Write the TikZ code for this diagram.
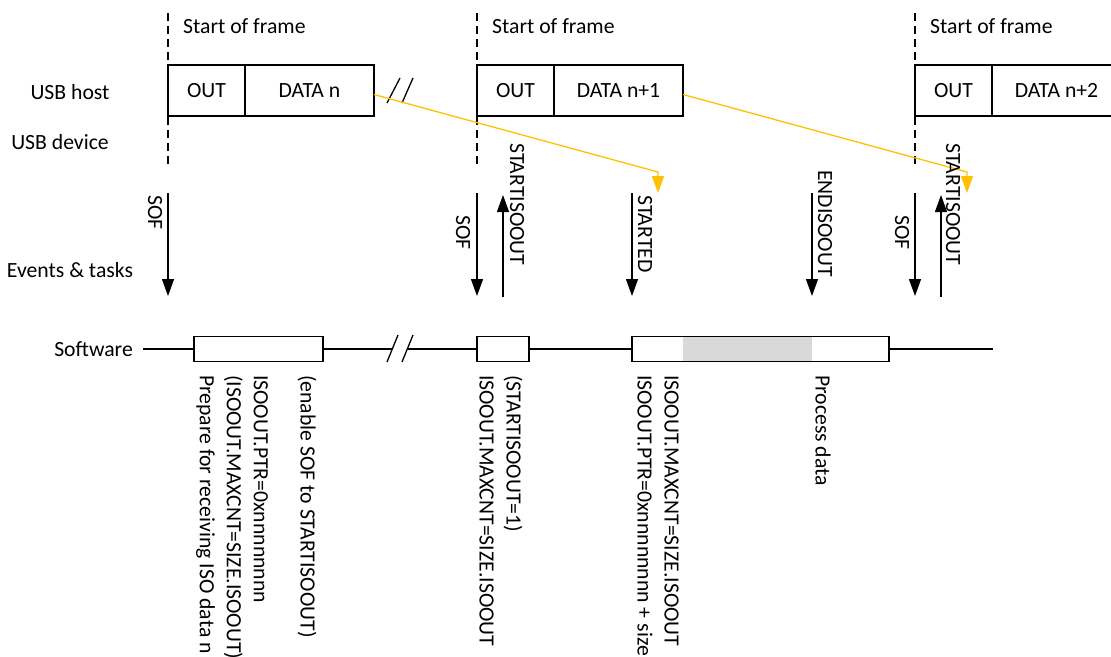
\documentclass[tikz,border=0pt]{standalone}
\usepackage{fontspec}
\setmainfont{Carlito}
\usetikzlibrary{arrows.meta,positioning,calc}
\definecolor{ygold}{HTML}{FFC000}
\definecolor{busy}{HTML}{D9D9D9}

\begin{document}
\begin{tikzpicture}[
  x=1pt, y=-1pt,
  font=\fontsize{21.7}{27}\selectfont,
  pkt/.style={draw, line width=1.3pt, minimum height=51pt, inner sep=0pt,
              outer sep=0pt},
  swbox/.style={draw, line width=1.3pt, minimum height=25pt, inner sep=0pt,
                outer sep=0pt, anchor=west},
  tl/.style={draw, line width=1.3pt},
  evt/.style={draw, line width=1.3pt, -{Triangle[length=17pt, width=12pt]}},
  rx/.style={draw=ygold, line width=1.3pt, -{Triangle[length=17pt, width=12pt]}},
  frm/.style={draw, line width=1.3pt, dash pattern=on 8pt off 5pt},
  vlbl/.style={rotate=-90, inner sep=0pt, align=left, anchor=west}
]
\useasboundingbox (0,0) rectangle (1111,656);

\node (host) at (70,92) {USB host};
\node (dev) at (60,142) {USB device};
\node (evts) at (70,270) {Events \& tasks};
\node[anchor=east, inner sep=0pt] (sw) at (133,349) {Software};

\foreach \x/\i/\d in {168/1/n, 477/2/n+1, 915/3/n+2} {
  \draw[frm] (\x,13) -- (\x,168);
  \node[anchor=west, inner sep=0pt] (sf\i) at (\x+15,26) {Start of frame};
  \node[pkt, minimum width=77pt, anchor=north west] (out\i) at (\x,65) {OUT};
  \node[pkt, minimum width=129pt, right=0pt of out\i] (data\i) {DATA \d};
}
\draw[tl] (387,103) -- (400,78) (402,103) -- (413,78);

\coordinate (rxA) at (658,193);
\coordinate (rxC) at (967,193);
\draw[rx] ([yshift=-4pt]data1.east) -- (658,172) -- (rxA);
\draw[rx] ([yshift=-4pt]data2.east) -- (967,172) -- (rxC);

\foreach \x/\n in {168/sofA, 477/sofB, 632/started, 812/endiso, 915/sofC}
  \draw[evt] (\x,193) coordinate (\n-t) -- (\x,296) coordinate (\n-b);
\foreach \x/\n in {503/startB, 941/startC}
  \draw[evt] (\x,297) coordinate (\n-b) -- (\x,195) coordinate (\n-t);

\node[vlbl] (lsofA) at (155,195) {SOF};
\node[vlbl] (lsofB) at (463,215) {SOF};
\node[vlbl] (lsofC) at (902,215) {SOF};
\node[vlbl] (lstartB) at (517,143) {STARTISOOUT};
\node[vlbl] (lstarted) at (645,195) {STARTED};
\node[vlbl] (lend) at (825,170) {ENDISOOUT};
\node[vlbl] (lstartC) at (953,143) {STARTISOOUT};

\fill[busy] (683,337) rectangle (812,361);
\node[swbox, minimum width=129pt] (prep) at (194,349) {};
\node[swbox, minimum width=52pt] (arm) at (477,349) {};
\node[swbox, minimum width=257pt] (proc) at (632,349) {};
\coordinate (swend) at (993,349);
\draw[tl] ([xshift=10pt]sw.east) -- (prep.west);
\draw[tl] (prep.east) -- (393,349);
\draw[tl] (408,349) -- (arm.west);
\draw[tl] (arm.east) -- (proc.west);
\draw[tl] (proc.east) -- (swend);
\draw[tl] (387,362) -- (398,335) (402,362) -- (413,335);

\node[vlbl] (tA) at (307,375) {(enable SOF to STARTISOOUT)};
\node[vlbl] (tB) at (232,375)
  {ISOOUT.PTR=0xnnnnnnnn\\(ISOOUT.MAXCNT=SIZE.ISOOUT)\\Prepare for receiving ISO data n};
\node[vlbl] (tC) at (501,375) {(STARTISOOUT=1)\\ISOOUT.MAXCNT=SIZE.ISOOUT};
\node[vlbl] (tD) at (658,375) {ISOOUT.MAXCNT=SIZE.ISOOUT\\ISOOUT.PTR=0xnnnnnnnn + size};
\node[vlbl] (tE) at (823,375) {Process data};
\end{tikzpicture}
\end{document}
